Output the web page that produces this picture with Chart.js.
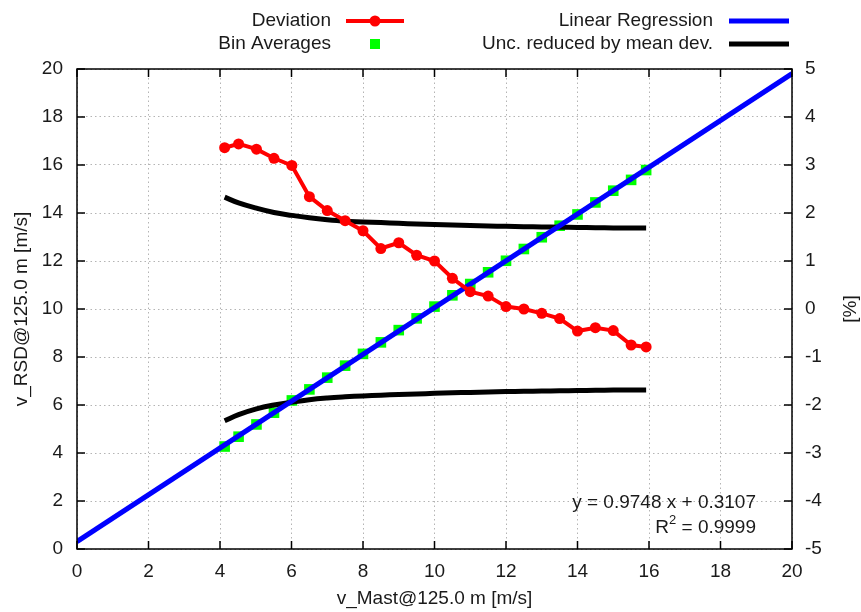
<!DOCTYPE html>
<html lang="en">
<head>
    <meta charset="UTF-8">
    <title>v_RSD vs v_Mast @125.0 m</title>
    <script src="https://cdn.jsdelivr.net/npm/chart.js"></script>
    <style>
        html, body { margin: 0; padding: 0; background: #ffffff; }
        #wrap { width: 861px; height: 612px; }
    </style>
</head>
<body>
    <div id="wrap"><canvas id="rsdChart" width="861" height="612"></canvas></div>

    <script>
        // bin centres (v_Mast, m/s)
        const binX = [4.13, 4.52, 5.02, 5.51, 6.01, 6.5, 7.0, 7.5, 8.0, 8.5, 9.0, 9.5, 10.0,
                      10.5, 11.0, 11.5, 12.0, 12.5, 13.0, 13.5, 14.0, 14.5, 15.0, 15.5, 15.92];
        // bin averages of v_RSD (m/s)
        const binAvg = [4.27, 4.68, 5.19, 5.68, 6.19, 6.65, 7.14, 7.64, 8.13, 8.61, 9.12, 9.61, 10.10,
                        10.57, 11.04, 11.53, 12.01, 12.50, 12.99, 13.47, 13.94, 14.44, 14.93, 15.38, 15.79];
        // deviation (%)
        const deviation = [3.36, 3.44, 3.33, 3.14, 2.99, 2.34, 2.05, 1.84, 1.63, 1.26, 1.38, 1.12, 1.00,
                           0.64, 0.36, 0.27, 0.05, 0.00, -0.09, -0.20, -0.46, -0.39, -0.45, -0.75, -0.79];
        // uncertainty reduced by mean deviation (%)
        const uncUpper = [2.33, 2.21, 2.10, 2.01, 1.95, 1.90, 1.86, 1.83, 1.815, 1.80, 1.785, 1.772, 1.76,
                          1.748, 1.738, 1.73, 1.722, 1.716, 1.71, 1.705, 1.70, 1.695, 1.69, 1.687, 1.685];
        const uncLower = [-2.33, -2.20, -2.08, -2.00, -1.94, -1.89, -1.855, -1.83, -1.81, -1.795, -1.78, -1.77, -1.757,
                          -1.746, -1.737, -1.729, -1.721, -1.715, -1.71, -1.705, -1.70, -1.695, -1.69, -1.687, -1.685];
        // linear regression end points
        const regX = [0, 20];
        const regY = [0.3107, 19.8067];

        const xTicks = [0, 2, 4, 6, 8, 10, 12, 14, 16, 18, 20];
        const yTicks = [0, 2, 4, 6, 8, 10, 12, 14, 16, 18, 20];
        const y2Ticks = [-5, -4, -3, -2, -1, 0, 1, 2, 3, 4, 5];

        const FONT = '"Liberation Sans", Arial, sans-serif';
        const FS = 19;
        const TXT = '#1a1a1a';

        const pts = (xs, ys) => xs.map((x, i) => ({ x: x, y: ys[i] }));

        // gnuplot style frame with inward ticks, legend and fit text
        const gnuplotDecor = {
            id: 'gnuplotDecor',
            afterDatasetsDraw(chart) {
                const { ctx, chartArea: a, scales } = chart;
                ctx.save();
                ctx.strokeStyle = '#000';
                ctx.lineWidth = 1.5;
                ctx.setLineDash([]);
                ctx.strokeRect(a.left, a.top, a.right - a.left, a.bottom - a.top);
                ctx.beginPath();
                xTicks.forEach(v => {
                    const px = scales.x.getPixelForValue(v);
                    ctx.moveTo(px, a.bottom); ctx.lineTo(px, a.bottom - 8);
                    ctx.moveTo(px, a.top); ctx.lineTo(px, a.top + 8);
                });
                yTicks.forEach(v => {
                    const py = scales.y.getPixelForValue(v);
                    ctx.moveTo(a.left, py); ctx.lineTo(a.left + 8, py);
                });
                y2Ticks.forEach(v => {
                    const py = scales.y2.getPixelForValue(v);
                    ctx.moveTo(a.right, py); ctx.lineTo(a.right - 8, py);
                });
                ctx.stroke();

                // legend
                ctx.font = FS + 'px ' + FONT;
                ctx.fillStyle = TXT;
                ctx.textAlign = 'right';
                ctx.textBaseline = 'middle';
                ctx.fillText('Deviation', 331, 21);
                ctx.fillText('Bin Averages', 331, 44);
                ctx.fillText('Linear Regression', 713, 21);
                ctx.fillText('Unc. reduced by mean dev.', 713, 44);

                ctx.lineCap = 'butt';
                ctx.lineWidth = 4;
                ctx.strokeStyle = '#ff0000';
                ctx.beginPath(); ctx.moveTo(346, 21); ctx.lineTo(404, 21); ctx.stroke();
                ctx.fillStyle = '#ff0000';
                ctx.beginPath(); ctx.arc(375, 21, 5.5, 0, Math.PI * 2); ctx.fill();
                ctx.fillStyle = '#00ff00';
                ctx.fillRect(370, 39, 10, 10);
                ctx.lineWidth = 5;
                ctx.strokeStyle = '#0000ff';
                ctx.beginPath(); ctx.moveTo(729, 21); ctx.lineTo(789, 21); ctx.stroke();
                ctx.strokeStyle = '#000000';
                ctx.beginPath(); ctx.moveTo(729, 44); ctx.lineTo(789, 44); ctx.stroke();

                // fit text
                ctx.fillStyle = TXT;
                ctx.font = FS + 'px ' + FONT;
                ctx.fillText('y = 0.9748 x + 0.3107', 756, 503);
                const rest = ' = 0.9999';
                const wRest = ctx.measureText(rest).width;
                ctx.fillText(rest, 756, 528);
                ctx.font = '13px ' + FONT;
                const w2 = ctx.measureText('2').width;
                ctx.fillText('2', 756 - wRest, 520);
                ctx.font = FS + 'px ' + FONT;
                ctx.fillText('R', 756 - wRest - w2, 528);

                // right axis title, bottom-to-top like gnuplot
                ctx.translate(851, 309);
                ctx.rotate(-Math.PI / 2);
                ctx.textAlign = 'center';
                ctx.fillText('[%]', 0, 0);
                ctx.restore();
            }
        };

        const gridStyle = { color: '#b4b4b4', lineWidth: 1, drawTicks: false };
        const tickFont = { family: FONT, size: FS };

        const ctx = document.getElementById('rsdChart').getContext('2d');
        const chart = new Chart(ctx, {
            data: {
                datasets: [
                    {
                        type: 'line',
                        label: 'Deviation',
                        data: pts(binX, deviation),
                        yAxisID: 'y2',
                        borderColor: '#ff0000',
                        backgroundColor: '#ff0000',
                        borderWidth: 4,
                        pointRadius: 5.5,
                        pointBorderWidth: 0,
                        tension: 0,
                        order: 0
                    },
                    {
                        type: 'line',
                        label: 'Linear Regression',
                        data: pts(regX, regY),
                        yAxisID: 'y',
                        borderColor: '#0000ff',
                        borderWidth: 5,
                        pointRadius: 0,
                        order: 1
                    },
                    {
                        type: 'line',
                        label: 'Unc. reduced by mean dev.',
                        data: pts(binX, uncUpper),
                        yAxisID: 'y2',
                        borderColor: '#000000',
                        borderWidth: 5,
                        pointRadius: 0,
                        tension: 0.4,
                        order: 2
                    },
                    {
                        type: 'line',
                        label: 'Unc. reduced by mean dev. (lower)',
                        data: pts(binX, uncLower),
                        yAxisID: 'y2',
                        borderColor: '#000000',
                        borderWidth: 5,
                        pointRadius: 0,
                        tension: 0.4,
                        order: 2
                    },
                    {
                        type: 'scatter',
                        label: 'Bin Averages',
                        data: pts(binX, binAvg),
                        yAxisID: 'y',
                        pointStyle: 'rect',
                        pointRadius: 7.5,
                        pointBorderWidth: 0,
                        backgroundColor: '#00ff00',
                        borderColor: '#00ff00',
                        order: 3
                    }
                ]
            },
            options: {
                responsive: false,
                animation: false,
                layout: { padding: { top: 69, left: 0, right: 0, bottom: 0 } },
                scales: {
                    x: {
                        type: 'linear',
                        min: 0, max: 20,
                        afterBuildTicks: s => { s.ticks = xTicks.map(v => ({ value: v })); },
                        afterFit: s => { s.height = 63; },
                        grid: gridStyle,
                        border: { display: false, dash: [1.5, 3] },
                        ticks: { font: tickFont, color: TXT, padding: 11, maxRotation: 0 },
                        title: {
                            display: true,
                            text: 'v_Mast@125.0 m [m/s]',
                            font: tickFont, color: TXT,
                            padding: { top: 0, bottom: 2 }
                        }
                    },
                    y: {
                        type: 'linear',
                        position: 'left',
                        min: 0, max: 20,
                        afterBuildTicks: s => { s.ticks = yTicks.map(v => ({ value: v })); },
                        afterFit: s => { s.width = 77; },
                        grid: gridStyle,
                        border: { display: false, dash: [1.5, 3] },
                        ticks: { font: tickFont, color: TXT, padding: 14 },
                        title: {
                            display: true,
                            text: 'v_RSD@125.0 m [m/s]',
                            font: tickFont, color: TXT,
                            padding: { top: 10, bottom: 0 }
                        }
                    },
                    y2: {
                        type: 'linear',
                        position: 'right',
                        min: -5, max: 5,
                        afterBuildTicks: s => { s.ticks = y2Ticks.map(v => ({ value: v })); },
                        afterFit: s => { s.width = 69; },
                        grid: { display: false, drawTicks: false },
                        border: { display: false },
                        ticks: { font: tickFont, color: TXT, padding: 13 }
                    }
                },
                plugins: {
                    legend: { display: false },
                    tooltip: { enabled: false }
                }
            },
            plugins: [gnuplotDecor]
        });
    </script>
</body>
</html>
